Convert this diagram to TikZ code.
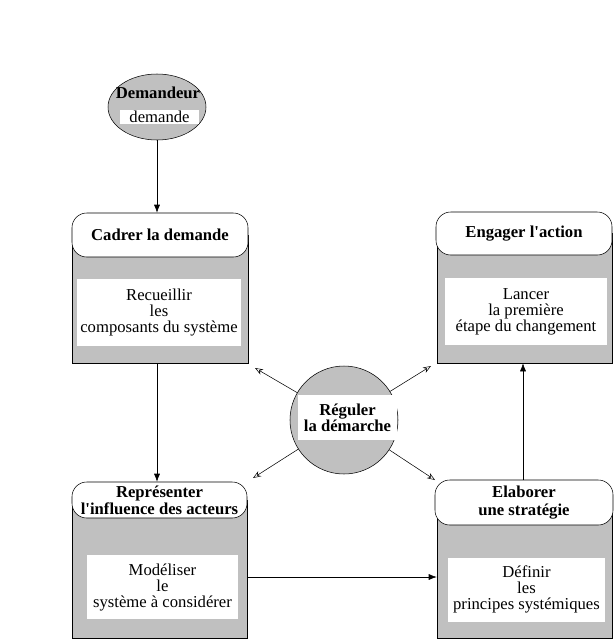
\documentclass[tikz,border=0pt]{standalone}
\usepackage{fontspec}
\setmainfont{Liberation Serif}
\usetikzlibrary{shapes.geometric,arrows.meta}
\definecolor{boxgray}{RGB}{192,192,192}

\begin{document}
\begin{tikzpicture}[x=0.75pt, y=-0.75pt,
	every node/.style={font=\fontsize{12.5}{12}\selectfont, align=center, inner sep=0pt},
	head/.style={draw, fill=white, rounded corners=11pt, font=\fontsize{12.5}{13}\selectfont\bfseries},
	body/.style={draw, fill=boxgray},
	inner/.style={fill=white},
	flow/.style={-{Latex[length=6pt,width=4.5pt]}},
	ray/.style={-{Stealth[open,length=6pt,width=4.5pt]}}]
	\useasboundingbox (0,0) rectangle (614,640);
	% demandeur
	\node[ellipse, draw, fill=boxgray, minimum width=73.5pt, minimum height=49.5pt] (dem) at (157,107) {};
	\node[font=\fontsize{12.5}{12}\selectfont\bfseries] (demtitle) at (158,93) {Demandeur};
	\node[inner, minimum width=59pt, minimum height=10.5pt] (demtxt) at (159.5,117) {demande};
	% four steps
	\node[body, minimum width=132pt, minimum height=96pt] (cadrer) at (160,299) {};
	\node[head, minimum width=132pt, minimum height=33pt] (cadrerhead) at (160,235) {Cadrer la demande};
	\node[inner, minimum width=123pt, minimum height=50.25pt] (cadrertxt) at (159,312.5) {Recueillir\\les\\composants du système};
	\node[body, minimum width=131.25pt, minimum height=97.5pt] (engager) at (525,298) {};
	\node[head, minimum width=132pt, minimum height=32.25pt] (engagerhead) at (524,233.5) {Engager l\textquotesingle action};
	\node[inner, minimum width=121.5pt, minimum height=50.25pt] (engagertxt) at (526,311.5) {Lancer\\la première\\étape du changement};
	\node[body, minimum width=131.25pt, minimum height=103.5pt] (rep) at (159.5,569) {};
	\node[head, minimum width=131.25pt, minimum height=27pt] (rephead) at (159.5,500) {Représenter\\l\textquotesingle influence des acteurs};
	\node[inner, minimum width=113.25pt, minimum height=48pt] (reptxt) at (162.5,587) {Modéliser\\le\\système à considérer};
	\node[body, minimum width=131.25pt, minimum height=102pt] (elab) at (524.5,570) {};
	\node[head, minimum width=133.5pt, minimum height=33.75pt] (elabhead) at (524,502.5) {Elaborer\\une stratégie};
	\node[inner, minimum width=117.75pt, minimum height=48pt] (elabtxt) at (526.5,589.5) {Définir\\les\\principes systémiques};
	% regulation
	\node[circle, draw, fill=boxgray, minimum size=81pt] (reg) at (344,420) {};
	\node[inner, minimum width=74.25pt, minimum height=33.75pt, font=\fontsize{12.5}{12}\selectfont\bfseries] (regtxt) at (347.5,417.5) {Réguler\\la démarche};
	\coordinate (ul) at (255,368);
	\coordinate (ur) at (431,366);
	\coordinate (dl) at (253,478);
	\coordinate (dr) at (435,480);
	\foreach \t in {ul,ur,dl,dr}
		\draw[ray] (reg) -- (\t);
	% flow
	\draw[flow] (dem.south) -- (dem.south |- cadrerhead.north);
	\draw[flow] (cadrer.south -| dem.south) -- (rephead.north -| dem.south);
	\draw[flow] ([yshift=-6pt]rep.east) -- ([yshift=-6pt]rep.east -| elab.west);
	\draw[flow] (elabhead.north -| 523,0) -- (engager.south -| 523,0);
\end{tikzpicture}
\end{document}
